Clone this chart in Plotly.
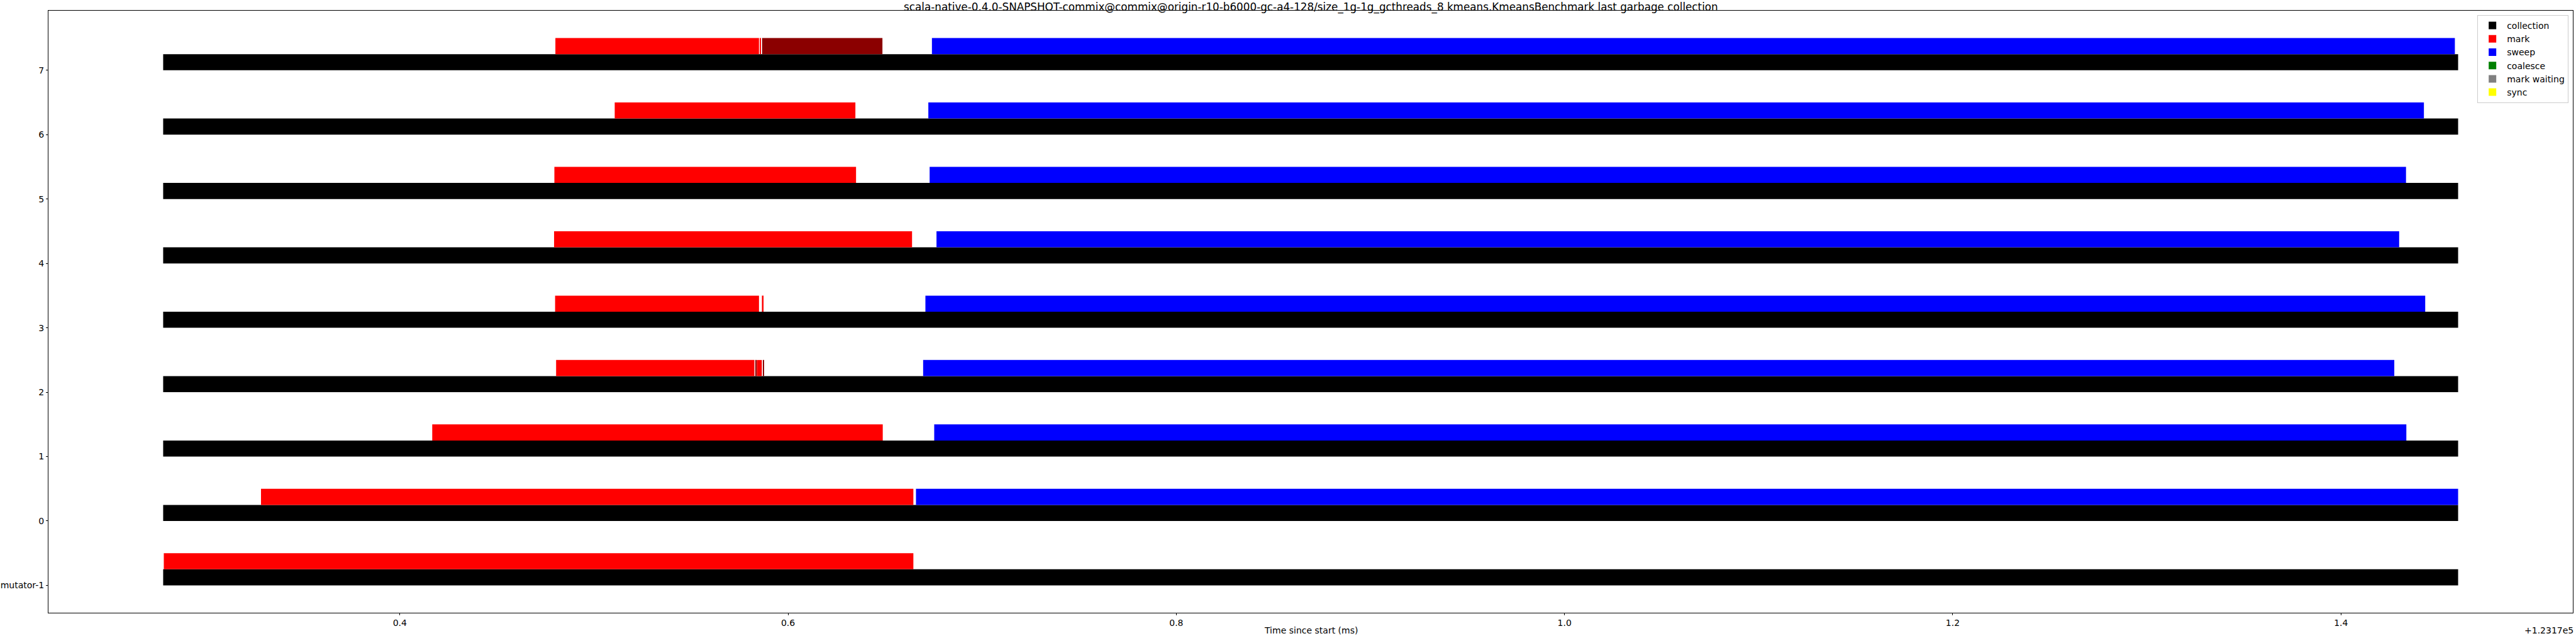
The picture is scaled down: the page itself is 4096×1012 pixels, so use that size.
import plotly.graph_objects as go

# ---- data (times in ms, relative to offset +1.2317e5) ----
thread_labels = ["mutator-1", "0", "1", "2", "3", "4", "5", "6", "7"]
thread_pos = [-1, 0, 1, 2, 3, 4, 5, 6, 7]

collection_start = [0.27807] * 9
collection_end = [1.46035] * 9

mark_rows = [-1, 0, 1, 2, 2, 3, 3, 4, 5, 6, 7, 7]
mark_start = [0.27840, 0.32847, 0.41669, 0.48050, 0.58386, 0.47998, 0.58652,
              0.47946, 0.47961, 0.51069, 0.48013, 0.58560]
mark_end = [0.66455, 0.66455, 0.64878, 0.58268, 0.58648, 0.58502, 0.58736,
            0.66387, 0.63502, 0.63468, 0.58502, 0.58600]

darkmark_rows = [2, 2, 7]
darkmark_start = [0.58335, 0.58732, 0.58660]
darkmark_end = [0.58352, 0.58748, 0.64861]

sweep_rows = [0, 1, 2, 3, 4, 5, 6, 7]
sweep_start = [0.66589, 0.67529, 0.66958, 0.67075, 0.67646, 0.67293, 0.67226, 0.67411]
sweep_end = [1.46035, 1.43368, 1.42747, 1.44340, 1.42998, 1.43351, 1.44273, 1.45868]

# phases with no recorded intervals in this collection
coalesce_rows, coalesce_start, coalesce_end = [], [], []
waiting_rows, waiting_start, waiting_end = [], [], []
sync_rows, sync_start, sync_end = [], [], []

x_offset_text = "+1.2317e5"
x_ticks = [0.4, 0.6, 0.8, 1.0, 1.2, 1.4]
title_text = ("scala-native-0.4.0-SNAPSHOT-commix@commix@origin-r10-b6000-gc-a4-128/"
              "size_1g-1g_gcthreads_8 kmeans.KmeansBenchmark last garbage collection")

BAR_H = 0.25
FONT = "DejaVu Sans"

# pixel geometry of the plot area
W, H = 4096, 1012
ML, MR, MT, MB = 77, 5, 17, 37
PH = H - MT - MB


def hbar(name, rows, starts, ends, color, lower, showlegend=True):
    if rows:
        y = [r + (BAR_H / 2 if lower else 1.5 * BAR_H) for r in rows]
        x = [e - s for s, e in zip(starts, ends)]
        base = list(starts)
    else:
        # placeholder so the legend still lists the phase
        y, x, base = [None], [None], [None]
    return go.Bar(
        name=name,
        orientation="h",
        y=y, x=x, base=base,
        width=BAR_H,
        marker=dict(color=color, line=dict(width=0)),
        showlegend=showlegend,
        legendgroup=name,
        hoverinfo="skip",
    )


fig = go.Figure()
fig.add_trace(hbar("collection", thread_pos, collection_start, collection_end, "black", True))
fig.add_trace(hbar("mark", mark_rows, mark_start, mark_end, "red", False))
fig.add_trace(hbar("sweep", sweep_rows, sweep_start, sweep_end, "blue", False))
fig.add_trace(hbar("coalesce", coalesce_rows, coalesce_start, coalesce_end, "green", False))
fig.add_trace(hbar("mark waiting", waiting_rows, waiting_start, waiting_end, "grey", False))
fig.add_trace(hbar("sync", sync_rows, sync_start, sync_end, "yellow", False))
fig.add_trace(hbar("mark (dark)", darkmark_rows, darkmark_start, darkmark_end, "darkred", False,
                   showlegend=False))

fig.update_layout(
    width=W, height=H,
    margin=dict(l=ML, r=MR, t=MT, b=MB, autoexpand=False),
    paper_bgcolor="white", plot_bgcolor="white",
    barmode="overlay",
    font=dict(family=FONT, size=14, color="black"),
    showlegend=True,
    legend=dict(
        x=0.9983, y=1 - (24.0 - MT) / PH, xanchor="right", yanchor="top",
        bgcolor="rgba(255,255,255,0.8)", bordercolor="#cccccc", borderwidth=1,
        font=dict(family=FONT, size=14), traceorder="normal", tracegroupgap=1,
        itemwidth=36,
    ),
    xaxis=dict(
        range=[0.21896, 1.51946], tickvals=x_ticks, ticktext=[str(t) for t in x_ticks],
        showgrid=False, zeroline=False, showline=True, linecolor="black", linewidth=1,
        mirror=True, ticks="outside", ticklen=3, tickcolor="black", automargin=False,
        tickfont=dict(family=FONT, size=14),
    ),
    yaxis=dict(
        range=[-1.425, 7.925], tickvals=thread_pos, ticktext=thread_labels,
        showgrid=False, zeroline=False, showline=True, linecolor="black", linewidth=1,
        mirror=True, ticks="outside", ticklen=3, tickcolor="black", automargin=False,
        tickfont=dict(family=FONT, size=14),
    ),
    annotations=[
        dict(text=title_text, xref="paper", yref="paper", x=0.5, y=1 + MT / PH,
             xanchor="center", yanchor="top", showarrow=False, borderpad=0,
             font=dict(family=FONT, size=16.8)),
        dict(text="Time since start (ms)", xref="paper", yref="paper", x=0.5,
             y=-MB / PH, xanchor="center", yanchor="bottom", showarrow=False, borderpad=0,
             font=dict(family=FONT, size=14)),
        dict(text=x_offset_text, xref="paper", yref="paper", x=1.0, xshift=2,
             y=-MB / PH, xanchor="right", yanchor="bottom", showarrow=False, borderpad=0,
             font=dict(family=FONT, size=14)),
    ],
)

fig.write_html(
    "out.html",
    config={"displayModeBar": False},
    post_script="document.body.style.margin='0';document.body.style.padding='0';"
                "document.body.style.overflow='hidden';",
)
